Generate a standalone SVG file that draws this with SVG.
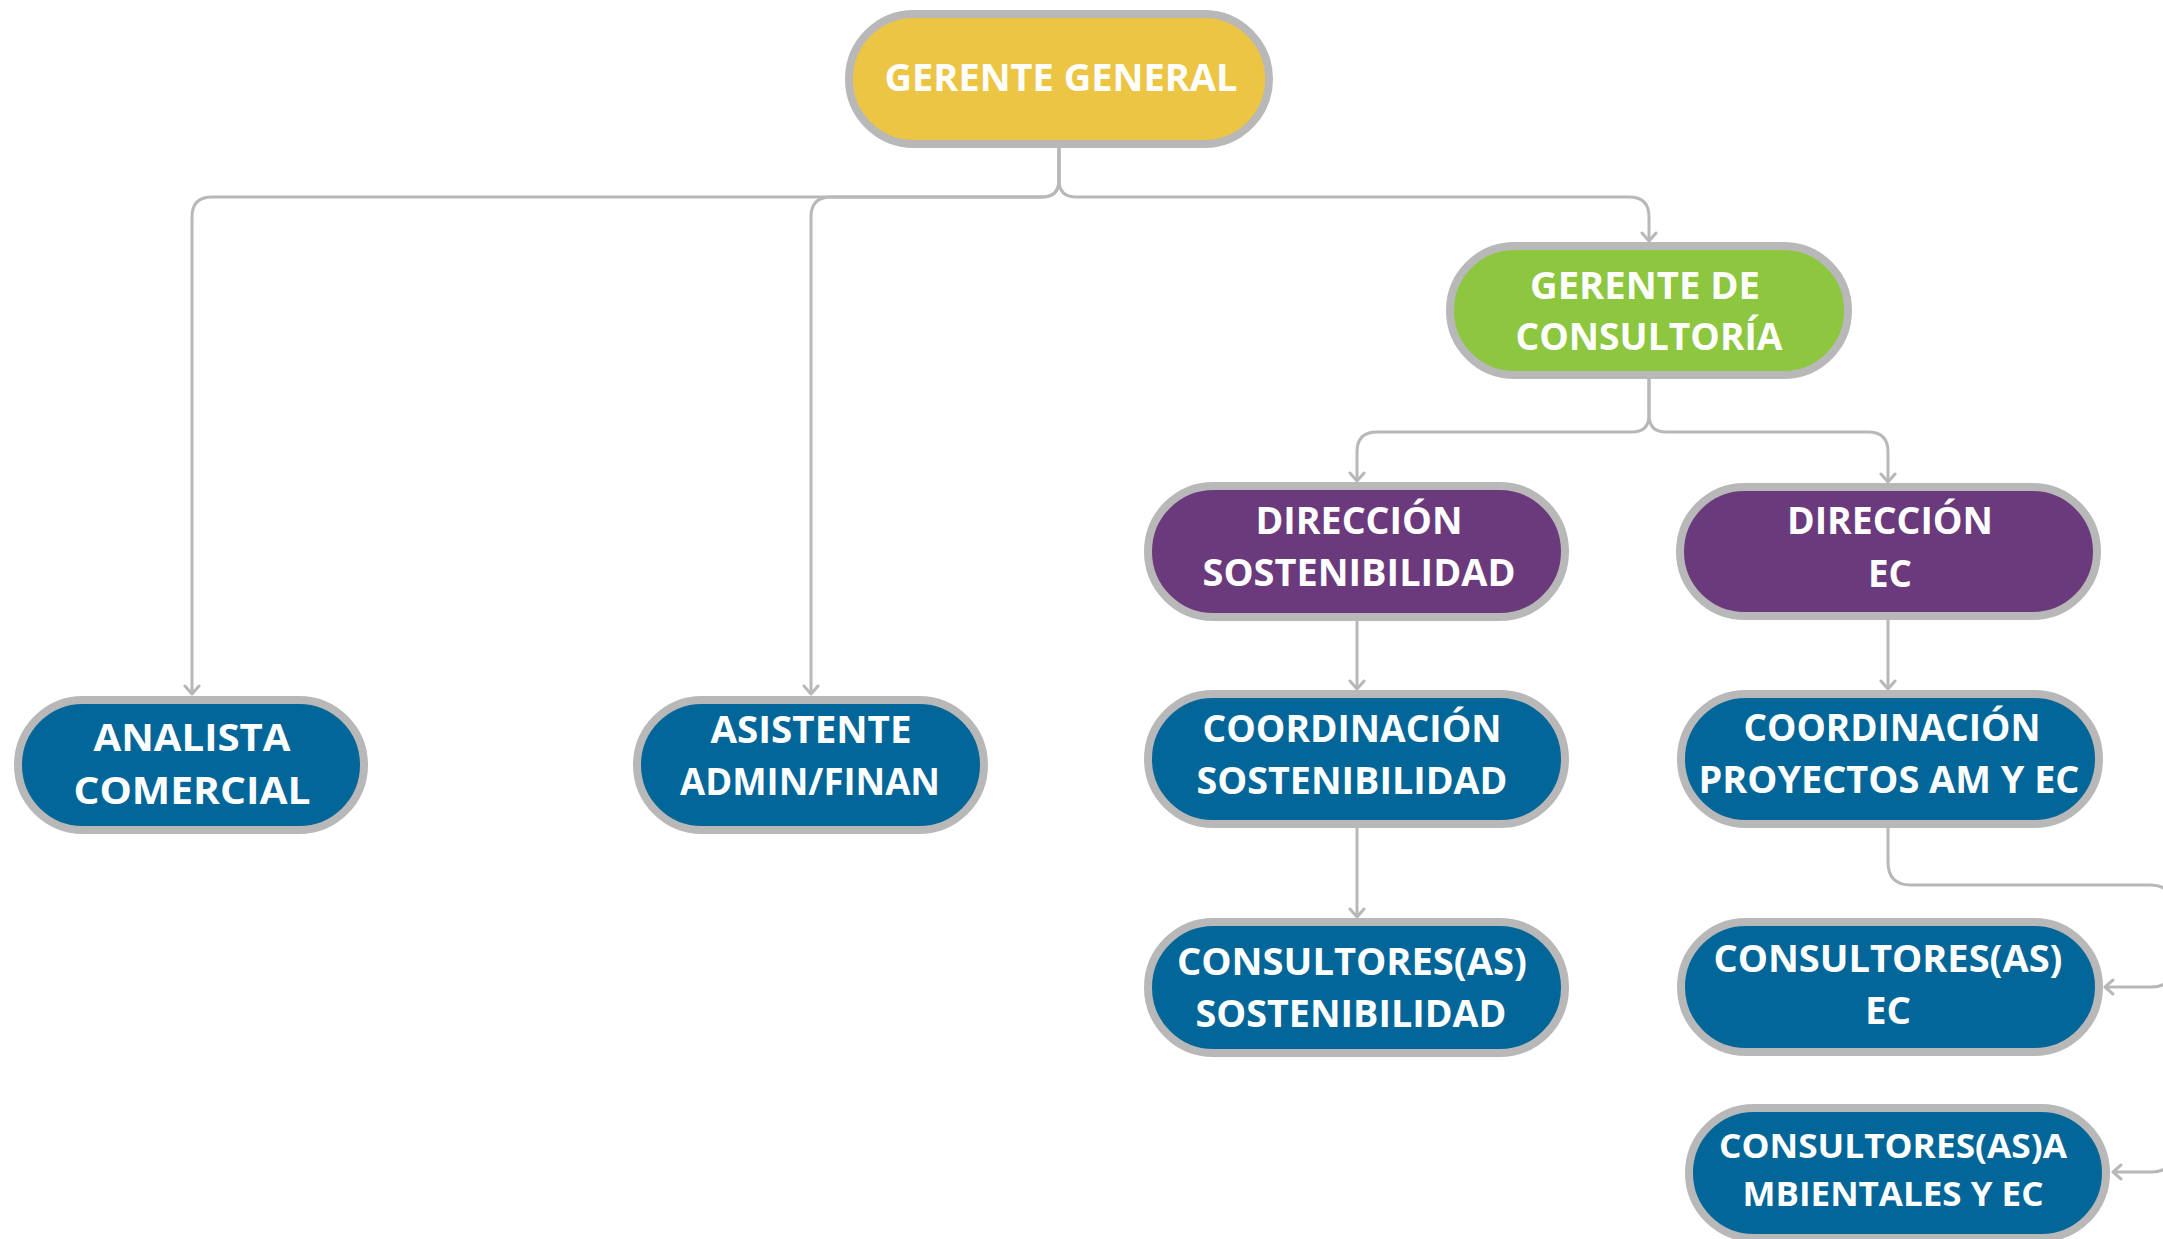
<svg xmlns="http://www.w3.org/2000/svg" width="2163" height="1239" viewBox="0 0 2163 1239">
<defs>
<style>
.node{stroke:#B8B8B8;stroke-width:8}
.y{fill:#EDC544}
.g{fill:#8DC63F}
.p{fill:#6B3A7C}
.b{fill:#026699}
.t{font-family:"Open Sans","Liberation Sans",sans-serif;font-weight:700;font-size:37.5px;fill:#FFFFFF;text-anchor:middle}
.s{font-size:34px}
.c{fill:none;stroke:#B8B8B8;stroke-width:3}
</style>
<marker id="arr" viewBox="-10 -9 12 18" refX="0" refY="0" markerWidth="12" markerHeight="18" markerUnits="userSpaceOnUse" orient="auto">
<path d="M-8,-7 L0,0 L-8,7" fill="none" stroke="#B8B8B8" stroke-width="3" stroke-linecap="round" stroke-linejoin="round"/>
</marker>
</defs>
<rect width="2163" height="1239" fill="#FFFFFF"/>
<g id="connectors">
<path class="c" marker-end="url(#arr)" d="M1059 148 V180 Q1059 197 1042 197 H212 Q192 197 192 217 V694"/>
<path class="c" marker-end="url(#arr)" d="M1059 148 V180 Q1059 197 1042 197 H831 Q811 197 811 217 V694"/>
<path class="c" marker-end="url(#arr)" d="M1059 148 V180 Q1059 197 1076 197 H1629 Q1649 197 1649 217 V241"/>
<path class="c" marker-end="url(#arr)" d="M1649 379 V415 Q1649 432 1632 432 H1377 Q1357 432 1357 452 V481"/>
<path class="c" marker-end="url(#arr)" d="M1649 379 V415 Q1649 432 1666 432 H1868 Q1888 432 1888 452 V482"/>
<path class="c" marker-end="url(#arr)" d="M1357 621 V689"/>
<path class="c" marker-end="url(#arr)" d="M1888 620 V689"/>
<path class="c" marker-end="url(#arr)" d="M1357 828 V917"/>
<path class="c" marker-end="url(#arr)" d="M1888 828 V862 Q1888 885 1911 885 H2150 Q2172 885 2172 907 V967 Q2172 987 2152 987 H2105"/>
<path class="c" marker-end="url(#arr)" d="M2172 967 V1152 Q2172 1172 2152 1172 H2113"/>
</g>
<g id="gerente-general">
<rect class="node y" x="849" y="14" width="420" height="130" rx="65"/>
<text class="t" x="1061" y="91" textLength="353" lengthAdjust="spacingAndGlyphs">GERENTE GENERAL</text>
</g>
<g id="gerente-consultoria">
<rect class="node g" x="1450" y="246" width="398" height="129" rx="64.5"/>
<text class="t" x="1645" y="299" textLength="230" lengthAdjust="spacingAndGlyphs">GERENTE DE</text>
<text class="t" x="1649" y="350" textLength="267" lengthAdjust="spacingAndGlyphs">CONSULTORÍA</text>
</g>
<g id="direccion-sostenibilidad">
<rect class="node p" x="1148" y="486" width="417" height="131" rx="65.5"/>
<text class="t" x="1359" y="534" textLength="207" lengthAdjust="spacingAndGlyphs">DIRECCIÓN</text>
<text class="t" x="1359" y="586" textLength="313" lengthAdjust="spacingAndGlyphs">SOSTENIBILIDAD</text>
</g>
<g id="direccion-ec">
<rect class="node p" x="1680" y="487" width="417" height="129" rx="64.5"/>
<text class="t" x="1890" y="534" textLength="206" lengthAdjust="spacingAndGlyphs">DIRECCIÓN</text>
<text class="t" x="1890" y="587" textLength="44" lengthAdjust="spacingAndGlyphs">EC</text>
</g>
<g id="analista-comercial">
<rect class="node b" x="18" y="700" width="346" height="130" rx="65"/>
<text class="t" x="192" y="751" textLength="197" lengthAdjust="spacingAndGlyphs">ANALISTA</text>
<text class="t" x="192" y="804" textLength="237" lengthAdjust="spacingAndGlyphs">COMERCIAL</text>
</g>
<g id="asistente-admin">
<rect class="node b" x="637" y="700" width="347" height="130" rx="65"/>
<text class="t" x="811" y="743" textLength="201" lengthAdjust="spacingAndGlyphs">ASISTENTE</text>
<text class="t" x="810" y="795" textLength="260" lengthAdjust="spacingAndGlyphs">ADMIN/FINAN</text>
</g>
<g id="coordinacion-sostenibilidad">
<rect class="node b" x="1148" y="694" width="417" height="130" rx="65"/>
<text class="t" x="1352" y="742" textLength="299" lengthAdjust="spacingAndGlyphs">COORDINACIÓN</text>
<text class="t" x="1352" y="794" textLength="311" lengthAdjust="spacingAndGlyphs">SOSTENIBILIDAD</text>
</g>
<g id="coordinacion-proyectos">
<rect class="node b" x="1681" y="694" width="418" height="130" rx="65"/>
<text class="t" x="1892" y="741" textLength="297" lengthAdjust="spacingAndGlyphs">COORDINACIÓN</text>
<text class="t" x="1889" y="793" textLength="381" lengthAdjust="spacingAndGlyphs">PROYECTOS AM Y EC</text>
</g>
<g id="consultores-sostenibilidad">
<rect class="node b" x="1148" y="922" width="417" height="131" rx="65.5"/>
<text class="t" x="1352" y="975" textLength="350" lengthAdjust="spacingAndGlyphs">CONSULTORES(AS)</text>
<text class="t" x="1351" y="1027" textLength="311" lengthAdjust="spacingAndGlyphs">SOSTENIBILIDAD</text>
</g>
<g id="consultores-ec">
<rect class="node b" x="1681" y="922" width="418" height="130" rx="65"/>
<text class="t" x="1888" y="972" textLength="349" lengthAdjust="spacingAndGlyphs">CONSULTORES(AS)</text>
<text class="t" x="1888" y="1024" textLength="46" lengthAdjust="spacingAndGlyphs">EC</text>
</g>
<g id="consultores-ambientales">
<rect class="node b" x="1689" y="1108" width="417" height="130" rx="65"/>
<text class="t s" x="1893" y="1158" textLength="348" lengthAdjust="spacingAndGlyphs">CONSULTORES(AS)A</text>
<text class="t s" x="1893" y="1206" textLength="301" lengthAdjust="spacingAndGlyphs">MBIENTALES Y EC</text>
</g>
</svg>
